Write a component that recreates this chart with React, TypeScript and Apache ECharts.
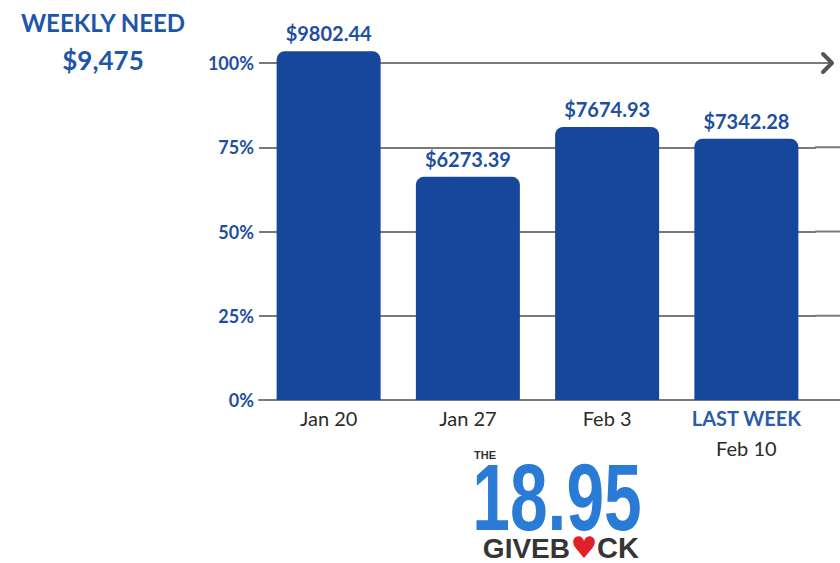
import React, { useEffect, useRef } from "react";
import * as echarts from "echarts";

const weeklyNeed = 9475;
const weeklyNeedLabel = "$9,475";
const categories = ["Jan 20", "Jan 27", "Feb 3", "Feb 10"];
const amounts = [9802.44, 6273.39, 7674.93, 7342.28];
const percentTicks = [0, 25, 50, 75, 100];
const lastWeekLabel = "LAST WEEK";

const BLUE = "#1f4f9f";
const BAR = "#17479b";
const GRIDC = "#7a7a7a";

export default function App() {
  const ref = useRef<HTMLDivElement>(null);
  useEffect(() => {
    document.body.style.margin = "0";
    const chart = echarts.init(ref.current!, null, { renderer: "svg" });
    const pct = amounts.map((a) => (a / weeklyNeed) * 100);
    const W = 840;
    const gridRight = 24;
    chart.setOption({
      animation: false,
      grid: { left: 259, right: gridRight, top: 63, bottom: 163 },
      xAxis: {
        type: "category",
        data: categories,
        axisLine: { show: true, lineStyle: { color: GRIDC, width: 2 } },
        axisTick: { show: false },
        axisLabel: {
          margin: 3,
          formatter: (v: string, i: number) =>
            i === categories.length - 1 ? `{lw|${lastWeekLabel}}\n{d|${v}}` : `{d|${v}}`,
          rich: {
            lw: { fontFamily: "Lato", fontWeight: "bold", fontSize: 20, color: "#2a5cab", lineHeight: 30 },
            d: { fontFamily: "Lato", fontSize: 20, color: "#2b2b2b", lineHeight: 30 },
          },
        },
      },
      yAxis: {
        type: "value",
        min: percentTicks[0],
        max: percentTicks[percentTicks.length - 1],
        interval: 25,
        axisLine: { show: false },
        axisTick: { show: false },
        splitLine: { show: true, lineStyle: { color: GRIDC, width: 2 } },
        axisLabel: {
          margin: 5,
          formatter: "{value}%",
          fontFamily: "Lato",
          fontWeight: "bold",
          fontSize: 18,
          color: BLUE,
        },
      },
      series: [
        {
          type: "bar",
          data: pct,
          barWidth: 104,
          clip: false,
          z: 3,
          itemStyle: { color: BAR, borderRadius: [8, 8, 0, 0] },
          label: {
            show: true,
            position: "top",
            distance: 8,
            formatter: (p: any) => "$" + amounts[p.dataIndex].toFixed(2),
            fontFamily: "Lato",
            fontWeight: "bold",
            fontSize: 20,
            color: BLUE,
          },
        },
      ],
    });

    const gx = W - gridRight;
    const graphics: any[] = [];
    percentTicks.forEach((t, i) => {
      const y = chart.convertToPixel({ yAxisIndex: 0 }, t) as number;
      const isTop = i === percentTicks.length - 1;
      graphics.push({
        type: "line",
        shape: { x1: gx - 1, y1: y, x2: isTop ? 830 : W, y2: y },
        style: { stroke: GRIDC, lineWidth: 2 },
        z: 1,
      });
      if (isTop) {
        graphics.push({
          type: "polyline",
          shape: { points: [[823, y - 9], [832, y], [823, y + 9]] },
          style: { stroke: "#555", lineWidth: 4, fill: "none", lineCap: "round", lineJoin: "round" },
          z: 2,
        });
      }
    });
    const txt = (x: number, y: number, text: string, extra: any, el: any = {}) => ({
      type: "text",
      x,
      y,
      ...el,
      style: { text, textVerticalAlign: "middle", ...extra },
    });
    graphics.push(
      txt(103, 22, "WEEKLY NEED", {
        fontFamily: "Lato",
        fontWeight: "bold",
        fontSize: 24,
        fill: "#1e56a8",
        textAlign: "center",
      }),
      txt(103, 60, weeklyNeedLabel, {
        fontFamily: "Lato",
        fontWeight: "bold",
        fontSize: 26,
        fill: "#1e56a8",
        textAlign: "center",
      }),
      txt(474, 455, "THE", {
        fontFamily: "Liberation Sans",
        fontWeight: "bold",
        fontSize: 11,
        fill: "#333",
        textAlign: "left",
      }),
      txt(
        557,
        497,
        "18.95",
        {
          fontFamily: "Liberation Sans",
          fontWeight: "bold",
          fontSize: 94,
          fill: "#2a7bd6",
          textAlign: "center",
        },
        { scaleX: 0.72 }
      ),
      txt(570, 548, "GIVEB", {
        fontFamily: "Liberation Sans",
        fontWeight: "bold",
        fontSize: 28,
        fill: "#353535",
        textAlign: "right",
      }),
      txt(584, 547, "\u2665", {
        fontFamily: "DejaVu Sans",
        fontSize: 30,
        fill: "#e0202a",
        textAlign: "center",
      }),
      txt(597, 548, "CK", {
        fontFamily: "Liberation Sans",
        fontWeight: "bold",
        fontSize: 29,
        fill: "#353535",
        textAlign: "left",
      })
    );
    chart.setOption({ graphic: graphics });

    return () => chart.dispose();
  }, []);
  return (
    <div
      ref={ref}
      style={{ position: "absolute", left: 0, top: 0, width: 840, height: 563, background: "#fff" }}
    />
  );
}
